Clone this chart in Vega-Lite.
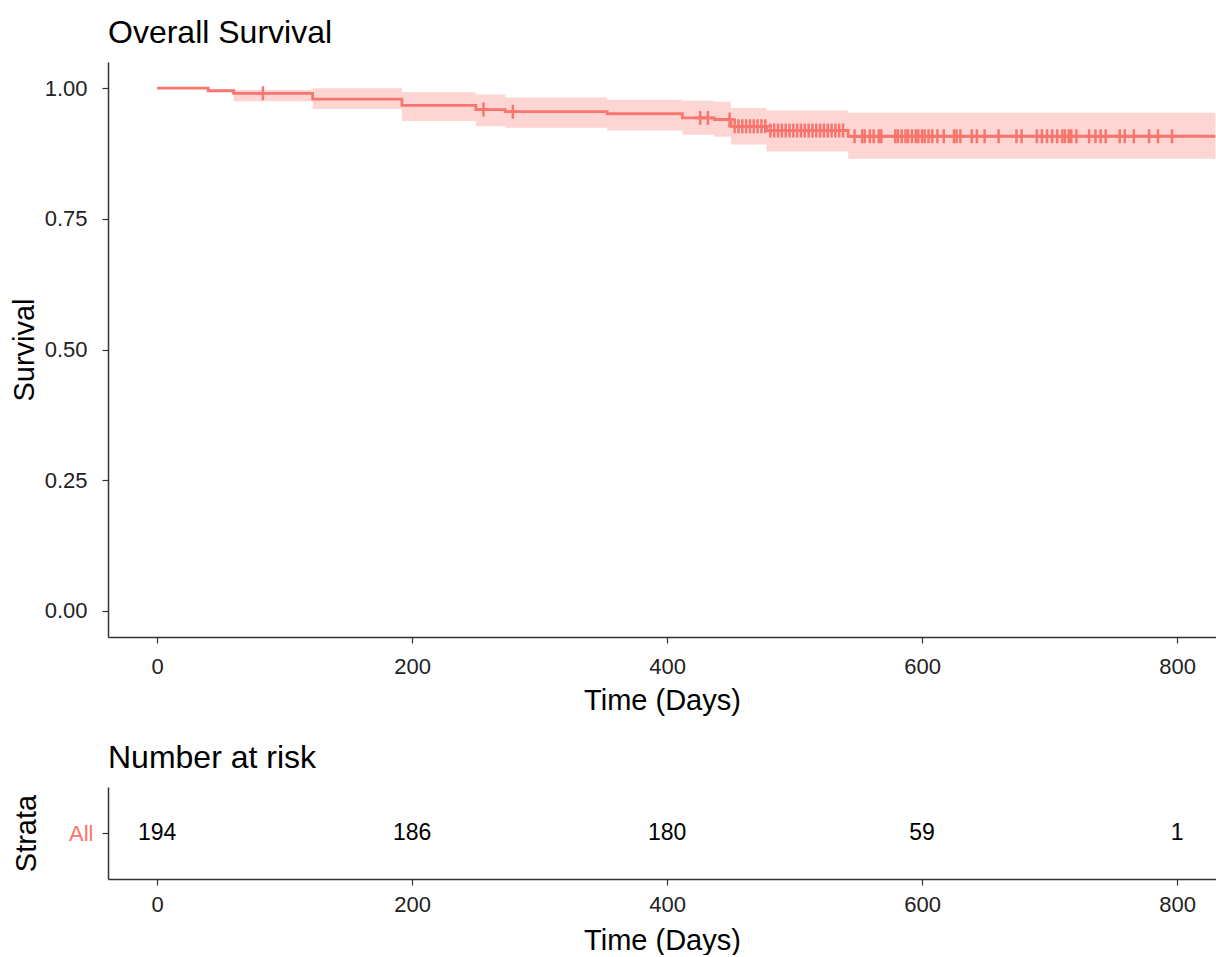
{
  "$schema": "https://vega.github.io/schema/vega-lite/v6.json",
  "padding": {"left": 10, "top": 17, "right": 0, "bottom": 0},
  "background": "white",
  "config": {
    "view": {"stroke": null},
    "font": "Liberation Sans",
    "axis": {"grid": false, "domainColor": "#333333", "domainWidth": 1.5, "tickColor": "#333333", "tickWidth": 1.2, "tickSize": 6, "labelFontSize": 22, "labelColor": "#222222", "titleFontSize": 29, "titleFontWeight": "normal", "titleColor": "#000000", "labelFont": "Liberation Sans", "titleFont": "Liberation Sans", "labelPadding": 6, "titlePadding": 8},
    "title": {"fontSize": 32, "fontWeight": "normal", "anchor": "start", "frame": "group", "color": "#000000", "font": "Liberation Sans"}
  },
  "datasets": {
    "curve": [
      {"time": 0, "surv": 1.0, "lower": 1.0, "upper": 1.0},
      {"time": 40, "surv": 0.995, "lower": 0.995, "upper": 0.995},
      {"time": 60, "surv": 0.99, "lower": 0.975, "upper": 0.997},
      {"time": 122, "surv": 0.979, "lower": 0.96, "upper": 1.0},
      {"time": 192, "surv": 0.967, "lower": 0.937, "upper": 0.992},
      {"time": 250, "surv": 0.959, "lower": 0.927, "upper": 0.988},
      {"time": 273, "surv": 0.955, "lower": 0.924, "upper": 0.982},
      {"time": 353, "surv": 0.951, "lower": 0.919, "upper": 0.978},
      {"time": 412, "surv": 0.943, "lower": 0.911, "upper": 0.976},
      {"time": 437, "surv": 0.94, "lower": 0.907, "upper": 0.974},
      {"time": 450, "surv": 0.927, "lower": 0.892, "upper": 0.962},
      {"time": 478, "surv": 0.919, "lower": 0.879, "upper": 0.957},
      {"time": 542, "surv": 0.908, "lower": 0.865, "upper": 0.953},
      {"time": 830, "surv": 0.908, "lower": 0.865, "upper": 0.953}
    ],
    "censor": [
      {"time": 83, "surv": 0.99},
      {"time": 256, "surv": 0.959},
      {"time": 279, "surv": 0.955},
      {"time": 426, "surv": 0.943},
      {"time": 432, "surv": 0.943},
      {"time": 449, "surv": 0.94},
      {"time": 453, "surv": 0.927},
      {"time": 456, "surv": 0.927},
      {"time": 459, "surv": 0.927},
      {"time": 462, "surv": 0.927},
      {"time": 465, "surv": 0.927},
      {"time": 468, "surv": 0.927},
      {"time": 471, "surv": 0.927},
      {"time": 474, "surv": 0.927},
      {"time": 477, "surv": 0.927},
      {"time": 481, "surv": 0.919},
      {"time": 484, "surv": 0.919},
      {"time": 487, "surv": 0.919},
      {"time": 490, "surv": 0.919},
      {"time": 493, "surv": 0.919},
      {"time": 496, "surv": 0.919},
      {"time": 499, "surv": 0.919},
      {"time": 502, "surv": 0.919},
      {"time": 505, "surv": 0.919},
      {"time": 508, "surv": 0.919},
      {"time": 511, "surv": 0.919},
      {"time": 514, "surv": 0.919},
      {"time": 517, "surv": 0.919},
      {"time": 520, "surv": 0.919},
      {"time": 523, "surv": 0.919},
      {"time": 526, "surv": 0.919},
      {"time": 529, "surv": 0.919},
      {"time": 532, "surv": 0.919},
      {"time": 535, "surv": 0.919},
      {"time": 538, "surv": 0.919},
      {"time": 547, "surv": 0.908},
      {"time": 553, "surv": 0.908},
      {"time": 555, "surv": 0.908},
      {"time": 559, "surv": 0.908},
      {"time": 562, "surv": 0.908},
      {"time": 566, "surv": 0.908},
      {"time": 568, "surv": 0.908},
      {"time": 579, "surv": 0.908},
      {"time": 581, "surv": 0.908},
      {"time": 584, "surv": 0.908},
      {"time": 587, "surv": 0.908},
      {"time": 589, "surv": 0.908},
      {"time": 592, "surv": 0.908},
      {"time": 595, "surv": 0.908},
      {"time": 597, "surv": 0.908},
      {"time": 600, "surv": 0.908},
      {"time": 602, "surv": 0.908},
      {"time": 605, "surv": 0.908},
      {"time": 608, "surv": 0.908},
      {"time": 612, "surv": 0.908},
      {"time": 617, "surv": 0.908},
      {"time": 625, "surv": 0.908},
      {"time": 627, "surv": 0.908},
      {"time": 630, "surv": 0.908},
      {"time": 639, "surv": 0.908},
      {"time": 643, "surv": 0.908},
      {"time": 649, "surv": 0.908},
      {"time": 660, "surv": 0.908},
      {"time": 674, "surv": 0.908},
      {"time": 678, "surv": 0.908},
      {"time": 690, "surv": 0.908},
      {"time": 694, "surv": 0.908},
      {"time": 698, "surv": 0.908},
      {"time": 702, "surv": 0.908},
      {"time": 706, "surv": 0.908},
      {"time": 710, "surv": 0.908},
      {"time": 712, "surv": 0.908},
      {"time": 715, "surv": 0.908},
      {"time": 717, "surv": 0.908},
      {"time": 721, "surv": 0.908},
      {"time": 731, "surv": 0.908},
      {"time": 736, "surv": 0.908},
      {"time": 740, "surv": 0.908},
      {"time": 744, "surv": 0.908},
      {"time": 755, "surv": 0.908},
      {"time": 759, "surv": 0.908},
      {"time": 766, "surv": 0.908},
      {"time": 778, "surv": 0.908},
      {"time": 785, "surv": 0.908},
      {"time": 796, "surv": 0.908}
    ],
    "risk": [
      {"time": 0, "n": 194, "strata": "All"},
      {"time": 200, "n": 186, "strata": "All"},
      {"time": 400, "n": 180, "strata": "All"},
      {"time": 600, "n": 59, "strata": "All"},
      {"time": 800, "n": 1, "strata": "All"}
    ]
  },
  "spacing": 27,
  "vconcat": [
    {
      "width": 1108,
      "height": 575,
      "title": {"text": "Overall Survival", "offset": 12},
      "encoding": {
        "x": {"field": "time", "type": "quantitative", "scale": {"domain": [-38.5, 830.5], "nice": false, "zero": false}, "axis": {"values": [0, 200, 400, 600, 800], "title": "Time (Days)", "labelPadding": 13, "titlePadding": 9}}
      },
      "layer": [
        {
          "data": {"name": "curve"},
          "mark": {"type": "area", "interpolate": "step-after", "color": "#F8766D", "opacity": 0.3, "clip": true},
          "encoding": {
            "y": {"field": "lower", "type": "quantitative", "scale": {"domain": [-0.05, 1.05], "nice": false, "zero": false}, "axis": {"values": [0, 0.25, 0.5, 0.75, 1], "format": ".2f", "title": "Survival", "labelPadding": 15, "titlePadding": 5}},
            "y2": {"field": "upper"}
          }
        },
        {
          "data": {"name": "curve"},
          "mark": {"type": "line", "interpolate": "step-after", "color": "#F8766D", "strokeWidth": 2.8, "clip": true},
          "encoding": {
            "y": {"field": "surv", "type": "quantitative", "title": "Survival"}
          }
        },
        {
          "data": {"name": "censor"},
          "mark": {"type": "point", "shape": "M-0.9,0H0.9M0,-1V1", "filled": false, "color": "#F8766D", "strokeWidth": 2.5, "size": 196, "opacity": 1},
          "encoding": {
            "y": {"field": "surv", "type": "quantitative", "title": "Survival"}
          }
        }
      ]
    },
    {
      "width": 1108,
      "height": 92,
      "title": {"text": "Number at risk", "offset": 12},
      "data": {"name": "risk"},
      "mark": {"type": "text", "fontSize": 23, "color": "#000000", "font": "Liberation Sans"},
      "encoding": {
        "x": {"field": "time", "type": "quantitative", "scale": {"domain": [-38.5, 830.5], "nice": false, "zero": false}, "axis": {"values": [0, 200, 400, 600, 800], "title": "Time (Days)", "labelPadding": 9, "titlePadding": 11}},
        "y": {"field": "strata", "type": "nominal", "axis": {"title": "Strata", "labelColor": "#F8766D", "labelPadding": 9, "titlePadding": 27}},
        "text": {"field": "n", "type": "quantitative"}
      }
    }
  ]
}
